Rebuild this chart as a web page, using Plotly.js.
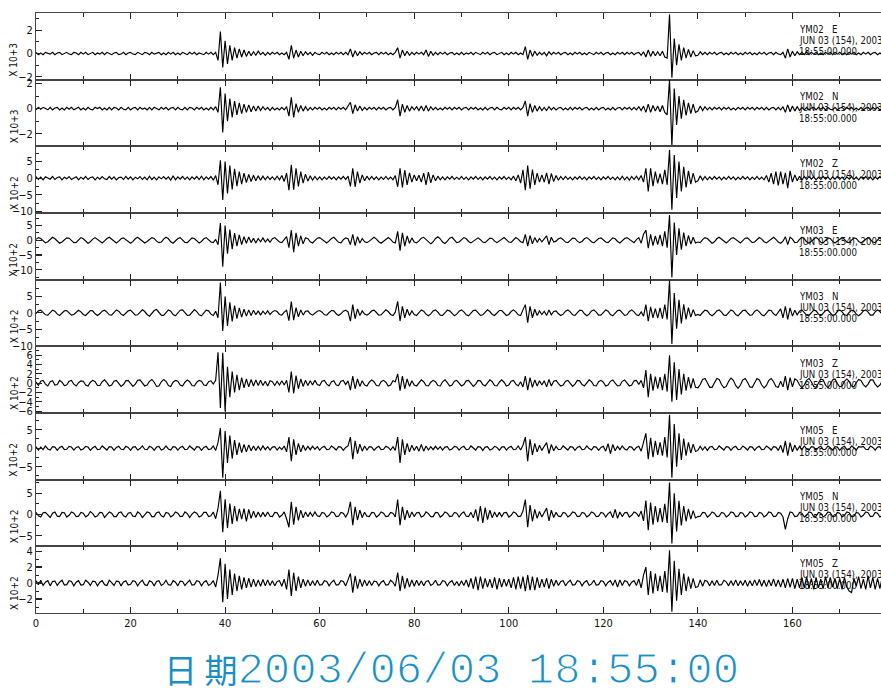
<!DOCTYPE html>
<html><head><meta charset="utf-8">
<script src="https://cdn.plot.ly/plotly-3.0.1.min.js"></script>
<style>html,body{margin:0;padding:0;overflow:hidden;background:#fff}#chart{width:890px;height:692px}</style>
</head><body><div id="chart"></div>
<script>
// ---- sampling of all traces (seconds after 18:55:00) ----
const sampleStart = 0;
const sampleInterval = 0.5;

// ---- panel labels ----
const stations = ['YM02','YM02','YM02','YM03','YM03','YM03','YM05','YM05','YM05'];
const channels = ['E','N','Z','E','N','Z','E','N','Z'];
const scaleLabels = ['X 10+3','X 10+3','X 10+2','X 10+2','X 10+2','X 10+2','X 10+2','X 10+2','X 10+2'];
const dateLine = 'JUN 03 (154), 2003';
const timeLine = '18:55:00.000';
const footer = '2003/06/03 18:55:00';
const footerPrefix = '日 期';

// ---- y tick labels per panel ----
const yTickVals = [[-2,0,2],[-2,0,2],[-10,-5,0,5],[-10,-5,0,5],[-10,-5,0,5],[-6,-4,-2,0,2,4,6],[-5,0,5],[-5,0,5],[-2,0,2,4]];
const xTickVals = [0,20,40,60,80,100,120,140,160];

// ---- traces (amplitude in panel units, one value per 0.5 s) ----
const e02 = [
.1,-.1,.05,-.1,.1,0,-.05,.1,-.1,.05,.1,-.1,0,.1,-.05,-.1,.1,.05,-.1,.1,
-.05,.1,-.1,0,.1,-.1,.05,-.05,.1,-.1,.1,0,-.1,.05,.1,-.1,-.05,.1,-.1,.05,
.1,-.05,-.1,.1,0,-.1,.1,.05,-.1,.1,-.05,0,.1,-.1,.05,-.1,.1,-.05,.1,-.1,
.05,-.1,.1,0,-.1,.1,-.05,.1,-.1,.05,0,-.1,.1,-.05,.1,-.1,.1,-.6,1.9,-1.2,
1.1,-.9,.7,-.6,.5,-.4,.4,-.3,.3,-.25,.2,-.2,.15,-.15,.2,-.1,.1,-.15,.1,-.1,
.1,-.05,.1,-.1,.05,-.1,.1,-.5,.7,-.4,.3,-.3,.2,-.2,.15,-.1,.1,-.15,.1,-.05,
-.1,.1,-.05,.1,-.1,.05,-.1,.1,-.05,.1,-.1,.1,-.1,.4,-.3,.25,-.2,.15,-.1,.1,
-.05,.1,-.1,.05,.1,-.1,.1,-.05,.1,-.1,.05,-.1,.1,.5,-.4,.3,-.2,.2,-.15,.1,
-.1,.1,-.05,.1,-.1,.3,-.25,.2,-.15,.1,-.1,.1,-.05,.1,-.1,.05,.1,-.1,.05,-.1,
.1,-.1,.05,-.05,.1,-.1,.1,0,-.1,.1,-.05,.1,-.1,.05,.1,-.1,0,.1,-.1,.05,
-.1,.1,-.05,.1,-.1,.05,-.1,.6,-.5,.3,-.25,.2,-.15,.1,-.1,.1,-.2,.15,-.1,.1,
-.05,.1,-.1,.05,.1,-.1,.05,-.1,.1,-.05,.1,-.1,.05,-.1,.1,0,-.1,.1,-.05,.1,
-.1,.05,.1,-.1,.05,-.1,.1,-.05,.1,-.1,.1,-.05,.1,-.1,.05,.1,-.15,.15,-.3,.3,
-.25,.2,-.2,.15,-.2,.2,-.3,-.4,3.4,-2.1,1.3,-1,.8,-.6,.5,-.4,.35,-.3,.25,-.2,
-.15,.15,-.1,.1,-.1,.1,-.05,.1,-.1,.05,.1,-.1,.05,-.1,.1,-.05,.1,-.1,.05,-.1,
.1,-.05,.1,-.1,.05,-.1,.1,-.05,.1,-.1,.05,.1,-.1,.1,-.05,-.1,.1,-.4,.4,-.3,
.2,-.2,.15,-.1,.1,-.1,.15,-.1,.1,-.05,.1,-.1,.05,-.1,.1,-.05,.1,-.1,.1,-.05,
.1,-.1,.05,-.1,.1,-.05,.1,-.1,.05,-.1,.1,-.05,.1,-.1,.05,.1,-.1,.05,-.1,.1];
const n02 = [
-.1,.1,-.05,.1,0,-.1,.1,-.1,.05,.1,-.1,.05,-.1,.1,-.05,.1,-.1,0,.1,-.1,
.05,-.1,.1,-.05,-.1,.1,0,.1,-.1,.05,-.1,.1,-.1,.1,.05,-.1,.1,-.05,-.1,.1,
-.1,.05,.1,-.1,.1,-.05,.05,-.1,.1,-.1,.1,0,-.1,.1,-.05,.1,-.1,.05,.1,-.1,
.1,-.05,-.1,.1,-.1,.1,.05,-.1,.1,-.05,.1,-.1,.05,-.1,.1,-.1,.15,-.3,1.7,-1.9,
1.2,-1,.8,-.7,.6,-.5,.45,-.4,.35,-.3,.3,-.25,.2,-.2,.2,-.15,.15,-.1,.1,-.15,
.1,-.1,.05,-.1,.1,-.1,.15,-.6,.9,-.7,.4,-.3,.25,-.2,.15,-.15,.1,-.1,.1,-.05,
.1,-.1,.05,-.1,.1,-.05,.1,-.1,.1,-.05,.1,-.1,.15,.5,-.4,.3,-.2,.2,-.15,.1,
-.1,.1,-.05,.1,-.1,.1,-.05,.1,-.1,.05,.1,-.1,.1,.7,-.6,.35,-.3,.25,-.2,.15,
-.1,.15,-.15,.2,-.2,.25,-.2,.15,-.1,.1,-.1,.05,-.1,.1,-.05,.1,-.1,.1,-.05,.1,
-.1,.05,.1,-.1,.1,-.05,.1,-.1,.05,-.1,.1,-.1,.05,.1,-.1,.1,-.05,-.1,.1,-.05,
.1,-.1,.1,-.05,.1,-.1,.1,.6,-.6,.4,-.3,.25,-.2,.15,-.15,.1,-.15,.15,-.1,.1,
-.1,.05,.1,-.1,.05,-.1,.1,-.1,.1,-.05,.1,-.1,.05,.1,-.1,.05,-.1,.1,-.1,.05,
.1,-.1,.05,-.1,.1,-.1,.05,.1,-.1,.1,-.05,.1,-.1,.1,-.1,.15,-.15,.2,-.3,.35,
-.3,.25,-.2,.2,-.25,.25,-.3,-.5,2.3,-3,1.6,-1.3,1,-.8,.7,-.55,.45,-.4,.35,-.3,
-.2,.2,-.15,.15,-.1,.1,-.1,.1,-.05,.1,-.1,.1,-.05,.1,-.1,.05,-.1,.1,-.05,.1,
-.1,.1,-.05,.1,-.1,.1,-.05,.1,-.1,.1,-.1,.05,.1,-.1,.1,-.1,.15,-.3,.3,-.25,
.2,-.2,.15,-.15,.1,-.1,.1,-.1,.05,.1,-.1,.1,-.05,.1,-.1,.1,-.05,-.1,.1,-.1,
.05,.1,-.1,.1,-.05,.1,-.1,.05,-.1,.1,-.1,.05,.1,-.1,.1,-.05,.1,-.1,.05,-.1];
const z02 = [
.5,-.4,.3,-.5,.4,0,-.3,.5,-.4,.2,.4,-.5,.3,-.2,.5,-.4,.1,.4,-.5,.3,
-.3,.5,-.4,.2,.4,-.5,.3,-.3,.5,-.2,-.4,.5,-.3,.4,-.5,.2,.3,-.4,.5,-.3,
.4,-.5,.3,-.2,.5,-.4,.3,-.5,.6,-.4,.3,-.5,.4,-.2,.5,-.3,.4,-.6,.7,-.5,
.4,-.3,.5,-.4,.3,-.5,.4,-.3,.5,-.4,.6,-.5,.4,-.3,.5,-.6,.8,-2,5.4,-6.6,
5,-4.6,3.8,-3.4,2.8,-2.4,2,-1.8,1.5,-1.3,1.1,-1,.9,-.8,.7,-.6,.6,-.5,.5,-.4,
.4,-.5,.6,-.5,.8,-1,1.5,-3.6,4,-3.5,3,-2.5,2,-1.5,1.2,-.9,.7,-.6,.5,-.5,
.4,-.5,.3,-.4,.5,-.3,.4,-.5,.4,-.3,.5,-.4,.6,-2.5,3,-2.6,2,-1.5,1,-.8,
.6,-.5,.5,-.4,.4,-.5,.3,-.4,.5,-.4,.3,-.5,.8,-2.6,3,-2.8,2.4,-2,1.6,-1.2,
1,-.8,.9,-1.2,1.5,-2,1.8,-1.4,1,-.8,.6,-.5,.4,-.5,.4,-.3,.5,-.4,.3,-.4,
.5,-.4,.3,-.5,.4,-.3,.5,-.4,.3,-.5,.4,-.3,.5,-.4,.3,-.5,.4,-.3,.5,-.4,
.3,-.5,.6,-.8,1,-1.5,2.5,-3.6,3.8,-3.2,2.6,-2,1.5,-1.2,1,-1.2,1.6,-1.8,1.4,-1,
.8,-.6,.5,-.4,.5,-.4,.3,-.5,.4,-.3,.5,-.4,.3,-.5,.4,-.3,.5,-.4,.3,-.5,
.4,-.3,.5,-.4,.3,-.5,.4,-.5,.6,-.5,.4,-.6,.5,-.4,.6,-.5,.8,-1.2,3,-4,
3,-2.4,2,-1.6,1.4,-1.8,2.5,-2,8.5,-9.5,7,-6,5,-4,3.4,-2.8,2.2,-1.8,1.5,-1.2,
-.8,.7,-.6,.5,-.5,.4,-.4,.5,-.3,.4,-.5,.3,-.4,.5,-.3,.4,-.5,.3,-.4,.5,
-.3,.4,-.5,.3,-.4,.5,-.4,.3,-.5,.8,-1.2,1.5,-1.8,2,-2.2,2,-1.8,1.6,-3,2.2,
-1.2,1,-.8,.6,-.6,.5,-.4,.5,-.3,.4,-.5,.3,-.4,.5,-.3,.4,-.5,.4,-.3,.5,
-.4,.3,-.5,.4,-.3,.5,-.4,.3,-.5,.4,-.3,.5,-.4,.3,-.5,.4,-.3,.5,-.4,.3];
const e03 = [
.3,.9,.6,-.3,-.9,-.5,.4,1,.5,-.4,-1,-.6,.2,.8,.7,-.2,-.8,-.7,.3,.9,
.5,-.3,-1,-.5,.4,.9,.3,-.6,-.9,-.2,.6,1,.4,-.5,-.9,-.3,.5,.8,.2,-.6,
-1,-.4,.5,1,.4,-.4,-.9,-.4,.3,.9,.6,-.3,-.8,-.6,.4,1,.5,-.5,-1,-.3,
.6,.9,.2,-.7,-.8,.1,.8,.6,-.3,-.9,-.4,.5,.9,.3,-.6,-.8,.3,-1.5,5.8,-8.9,
5,-4.5,3.6,-3,2.4,-2,1.8,-1.5,1.2,-1,1.1,-.8,.7,-.9,.6,-.5,.8,-.6,.4,-.7,
.5,.9,.2,-.6,-.8,.3,1.2,-2.5,3.4,-4,2.5,-2,1.5,-1.2,.8,.6,-.5,-.9,-.2,.7,
.9,.3,-.6,-.9,-.2,.6,1,.3,-.7,-.9,.2,.8,.5,-1.5,2,-1.8,1.2,-.9,.6,-.5,
-.8,-.3,.5,1,.4,-.5,-1,-.4,.5,.9,.3,-.6,-.9,3,-3.5,2.5,-2,1.5,-1,.8,
-.6,-.9,-.2,.7,1,.3,-.6,-1.2,-.5,.6,1.2,.5,-.6,-1.1,-.3,.7,1,.2,-.8,-.6,
.3,.9,.5,-.4,-.9,-.4,.4,.8,.2,-.6,-.8,.1,.7,.6,-.3,-.8,-.3,.5,.9,.2,
-.6,-.7,.3,.9,.4,-.5,-.8,2,-2,1.6,-1.2,.9,-.7,.6,-.5,.4,1.5,-1.5,1,-.6,
-.3,.5,.8,.2,-.6,-.8,.1,.7,.6,-.3,-.8,-.4,.5,.9,.3,-.5,-.9,-.2,.6,.8,
.2,-.6,-.8,.1,.8,.5,-.4,-.9,-.2,.6,.9,.3,-.5,-.8,.2,.9,-1,2,3.4,-2.7,
2,-1.8,1.5,-1.5,1.8,-2,3,-2.5,8.5,-12.6,6,-5,4,-3.2,2.6,-2,1.6,-1.3,1,-.9,
-.6,-.8,.2,.9,.6,-.4,-1,-.5,.5,1,.4,-.5,-.9,-.2,.6,.9,.3,-.6,-.9,-.1,
.7,.8,-.1,-.8,-.6,.3,.9,.4,-.5,-.9,-.2,.6,1,.3,-.6,-1,-.3,1.2,-1.5,1,
.4,-.8,-.7,.3,1,.5,-.5,-1,-.4,.5,1,.3,-.7,-.9,.1,.8,.6,-.4,-.9,-.3,
.5,.9,.3,-.6,-.8,.1,.8,.6,-.4,-.9,-.3,.6,.9,.2,-.6,-.8,.2,.9,.4,-.5];
const n03 = [
-.2,.6,.8,.1,-.6,-.7,.2,.8,.5,-.4,-.8,-.2,.6,.7,-.1,-.7,-.5,.3,.8,.3,
-.5,-.8,0,.7,.6,-.3,-.8,-.3,.5,.8,.2,-.6,-.7,.2,.9,.5,-.4,-.8,-.2,.6,
.8,.1,-.7,-.6,.3,.9,.4,-.5,-1,-.3,.7,1,.2,-.7,-.8,.2,.9,.5,-.5,-.9,
-.1,.8,.9,.1,-.8,-.7,.3,1,.4,-.6,-.9,0,.8,.6,-.4,-.8,.5,-1.5,9.2,-5.5,
5,-4,3.2,-2.6,2.2,-1.8,1.5,-1.3,1.1,-1,.9,-.8,.8,-.6,.6,-.7,.5,-.4,.6,-.5,
.3,.7,.4,-.5,-.7,.2,.8,-2.4,3.4,-2.2,1.6,-1.2,.9,-.7,.5,.6,-.3,-.7,-.2,.5,
.7,.2,-.6,-.7,.1,.7,.6,-.3,-.8,-.3,.5,.8,.3,-2.5,2.5,-1.8,1.2,-.8,.6,-.4,
-.7,-.2,.6,.8,.1,-.7,-.6,.3,.9,.4,-.5,-.8,.2,3.5,-2.5,2,-1.5,1.1,-.8,.6,
-.5,-.8,.2,.9,.5,-.4,-.9,-.3,.6,.9,.2,-.7,-.8,.1,.8,.6,-.3,-.9,-.4,.5,
.9,.3,-.6,-.9,-.1,.7,.8,0,-.8,-.6,.3,.9,.4,-.5,-.8,-.1,.7,.7,-.2,-.8,
-.5,.4,.9,.3,-.6,-.8,.9,2.5,-3,2,-1.5,1.1,-.8,.6,-.5,.5,-.8,.9,-.6,.4,
.6,-.3,-.8,-.4,.5,.9,.3,-.6,-.8,0,.8,.7,-.3,-.9,-.4,.6,.9,.2,-.7,-.7,
.2,.9,.5,-.5,-.9,-.2,.7,.8,-.1,-.8,-.6,.4,.9,.3,-.6,-.8,.3,-1,2.5,-2.5,
1.8,-1.5,1.3,-1.6,1.5,-1.8,2.5,-2,9.8,-9.5,6,-4.8,4,-3.2,2.6,-2,1.6,-1.3,1,-.8,
-.5,-.8,.1,.8,.6,-.4,-.9,-.3,.6,.9,.2,-.7,-.8,.2,.9,.5,-.5,-.9,-.1,.7,
.8,0,-.8,-.6,.4,.9,.3,-.6,-.9,-.1,.8,.7,-.3,-.8,.4,1.2,-1.5,2,-2,1.5,
-1,.8,-.6,.5,.9,.2,-.7,-.8,.1,.8,.6,-.4,-.9,-.2,.7,.8,-.1,-.8,-.5,.4,
.9,.3,-.6,-.8,.1,.8,.6,-.4,-.9,-.3,.6,.9,.2,-.7,-.7,.3,.9,.4,-.5,-.8];
const z03 = [
.3,-.5,.4,.6,-.2,-.6,.3,.5,-.4,-.3,.6,.2,-.5,-.4,.4,.6,-.2,-.6,.1,.5,
.4,-.4,-.6,.2,.6,.3,-.5,-.5,.3,.7,.1,-.6,-.4,.4,.6,-.1,-.7,-.3,.5,.6,
-.2,-.7,-.2,.6,.7,-.1,-.6,-.4,.4,.8,.2,-.7,-.6,.3,.8,.4,-.5,-.7,.2,.6,
.4,-.4,-.6,.2,.7,.3,-.5,-.6,.2,.6,.4,-.4,-.5,.3,.5,-.2,.6,6.6,-5.3,6.5,
-6,3.5,-3,2.5,-2,1.8,-1.5,1.2,-1,.9,-.8,.8,-.6,.7,-.5,.6,-.5,.4,-.6,.5,
.3,-.5,.4,-.4,.5,-.4,.6,-2,2.5,-2.2,1.6,-1.2,.9,-.7,.6,-.5,.5,-.4,.6,-.3,
-.5,.4,.6,-.2,-.6,.3,.5,-.4,-.5,.4,.6,-.3,.5,-1.5,1.5,-1.2,.9,-.7,.5,-.4,
-.6,.2,.7,.3,-.5,-.6,.3,.6,.2,-.6,-.4,.5,.3,2,-1.6,1.5,-1.2,.9,-.7,.5,
-.4,-.6,.2,.7,.3,-.5,-.6,.2,.6,.3,-.5,-.6,.3,.7,.1,-.6,-.4,.4,.6,-.1,
-.6,-.3,.5,.6,-.2,-.7,-.2,.6,.5,-.3,-.6,.1,.7,.3,-.5,-.6,.2,.7,.2,-.6,
-.4,.4,.6,-.2,-.6,.3,-.8,1.5,-1.5,1.2,-.9,.7,-.6,.5,-.4,.5,-.8,.8,-.6,.4,
.6,-.1,-.6,-.4,.4,.6,-.2,-.7,-.2,.6,.5,-.3,-.6,.1,.7,.3,-.5,-.6,.3,.6,
.2,-.6,-.4,.4,.7,0,-.6,-.5,.4,.7,.1,-.6,-.4,.5,.6,-.3,.6,-1,2.8,-3,
2,-1.6,1.4,-1.2,1.3,-1.5,2,-1.8,6,-4,4.5,-3.6,3,-2.4,2,-1.6,1.3,-1.1,1,-.9,
-1,-.3,.8,1,.1,-.9,-.9,.2,1,.8,-.3,-1,-.7,.4,1.1,.6,-.5,-1.1,-.4,.7,
1,.2,-.8,-.9,.1,1,.7,-.4,-1,-.5,.6,1,.3,-.7,-.9,.4,-.8,1.5,-1.5,1.2,
-.8,.9,.6,-.4,-1,-.4,.6,1,.3,-.7,-.9,0,.9,.7,-.4,-1,-.3,.7,.9,-.1,
-.8,-.6,.4,.9,.4,-.6,-.8,.1,.8,.6,-.3,-.8,-.2,.7,.7,-.2,-.8,-.4,.5,.7];
const e05 = [
.4,-.5,.3,-.4,.6,-.2,-.5,.4,.3,-.6,.2,.5,-.4,-.3,.5,.3,-.5,.2,.4,-.5,
-.2,.5,.3,-.6,.1,.5,-.4,-.3,.6,.1,-.5,.4,.3,-.6,.2,.5,-.3,-.4,.5,.2,
-.6,.3,.4,-.5,-.1,.6,-.3,-.4,.5,.2,-.6,.3,.5,-.5,-.2,.6,-.2,-.5,.4,.3,
-.5,.2,.5,-.4,-.3,.6,.1,-.5,.4,.3,-.6,.2,.5,-.4,-.2,.6,-.6,1.5,5.4,-8,
4.6,-4,3.4,-2.8,2.2,-1.8,1.5,-1.2,1,-1,.9,-.7,.6,-.6,.5,-.5,.6,-.4,.4,-.5,
.3,.4,-.5,.3,-.4,.6,-1,3,-3.5,2.4,-1.8,1.3,-1,.8,-.6,.5,-.4,.5,-.3,.4,
-.5,.2,.5,-.4,-.3,.6,.1,-.5,.4,.3,-.6,.2,.6,3,-3,2,-1.5,1.1,-.8,.6,
-.5,.4,.3,-.6,.1,.5,-.4,-.3,.5,.2,-.5,.4,-.6,3,-4,2.4,-1.8,1.3,-1,.8,
-.6,.5,-.8,1,-.8,.6,-.5,.4,-.4,.5,-.3,.4,-.5,.3,.4,-.5,-.2,.5,.3,-.5,
.2,.5,-.4,-.3,.6,.1,-.5,.4,.3,-.6,.3,.4,-.5,-.2,.5,.2,-.6,.3,.4,-.5,
.2,.5,-.4,-.3,.6,-.5,.8,3,-3.5,2.4,-1.8,1.3,-1,.8,-.6,.5,1.5,-1.5,1,-.7,
.5,-.4,-.3,.6,.1,-.5,.4,.3,-.6,.2,.5,-.4,-.3,.6,-.1,-.5,.4,.3,-.6,.2,
.5,-.8,1.2,-1.5,1,-.7,.5,-.4,.6,-.2,-.5,.4,.3,-.6,.2,.5,-.8,1.5,4,-3,
2.8,-2.4,2,-1.8,1.6,-2,3,-2.5,9,-8,6.5,-5,4,-3.2,2.6,-2,1.6,-1.3,1.1,-.9,
-.6,.5,-.5,.4,-.6,.3,.5,-.4,-.3,.6,.1,-.5,.4,.3,-.6,.2,.5,-.4,-.3,.6,
.1,-.5,.4,.3,-.6,.2,.5,-.4,-.3,.6,.1,-.5,.4,.3,-.6,.8,-1.2,2,-2,1.5,
-1,.8,-.6,.5,-.4,.6,-.2,-.5,.4,.3,-.6,.2,.5,-.4,-.3,.6,.1,-.5,.4,.3,
-.6,.2,.5,-.4,-.3,.6,.1,-.5,.4,.3,.5,-.3,-.4,.6,.2,-.5,.3,.4,-.6,.1];
const n05 = [
.5,-.3,-.6,.4,.5,-.2,-.7,.3,.6,-.4,-.5,.5,.4,-.6,-.2,.6,.3,-.5,-.4,.5,
.3,-.6,-.2,.7,.2,-.6,-.3,.5,.4,-.7,0,.6,.3,-.5,-.5,.4,.6,-.3,-.6,.3,
.5,-.4,-.5,.6,.2,-.7,-.1,.6,.4,-.5,-.5,.4,.6,-.3,-.6,.5,.3,-.6,-.2,.6,
.3,-.5,-.4,.6,.2,-.7,.1,.6,.3,-.6,-.3,.5,.5,-.5,-.3,.6,-1,1.5,5.6,-4.2,
3.6,-3.2,2.6,-2.2,2,-1.6,1.3,-1.1,1.4,-1.6,1.2,-.9,.8,-.7,.6,-.6,.5,-.5,.6,-.4,
-.5,.5,.4,-.6,-.2,.6,-1,-3,3,-2.4,1.8,-1.4,1,-.8,.6,-.5,.5,-.4,.6,-.3,
-.5,.5,.3,-.6,-.2,.6,.4,-.5,-.4,.5,.3,-.6,.4,3,-2.5,1.8,-1.3,1,-.7,.5,
-.4,-.5,.5,.4,-.6,-.2,.6,.3,-.5,-.4,.5,.3,-.6,3.5,-2.5,1.8,-1.3,1,-.8,.6,
-.5,.4,.5,-.6,-.3,.6,.2,-.5,-.5,.5,.4,-.6,-.2,.6,.3,-.5,-.4,.5,.3,-.6,
.2,.6,-.4,-.5,.5,-.8,1.2,-1.6,2,-2,1.6,-1.2,1,-.8,.6,-.6,.5,-.5,.4,.5,
-.6,-.2,.6,.3,-.5,-.4,.8,3.5,-3,2.2,-1.6,1.2,-.9,.7,-.6,.5,1.5,-1.5,1,-.7,
.5,-.4,-.5,.5,.3,-.6,-.2,.6,.4,-.5,-.4,.5,.3,-.6,-.2,.6,.3,-.5,-.4,.5,
.3,-.6,.2,.6,-.8,1.2,-.9,.6,-.5,.4,.5,-.6,-.2,.6,.3,-.5,.8,-1.5,3.3,-3.7,
2.8,-2.4,2,-1.8,1.5,-1.8,2.5,-2,7.5,-6.8,5,-4,3.2,-2.6,2,-1.6,1.3,-1.1,.9,-.8,
-.5,-.4,.5,.4,-.6,-.2,.6,.3,-.5,-.4,.5,.3,-.6,-.2,.6,.4,-.5,-.4,.5,.3,
-.6,-.2,.6,.4,-.5,-.4,.5,.3,-.6,-.2,.6,.4,-.5,-.4,.5,.3,-.6,-3.5,-1,.6,
.4,-.5,-.4,.5,.3,-.6,-.2,.6,.4,-.5,-.4,.5,.3,-.6,-.2,.6,.4,-.5,-.4,.5,
.3,-.6,-.2,.6,.4,-.5,-.4,.5,.3,-.6,-.2,.6,.4,-.5,-.4,.5,.3,-.6,-.2,.6];
const z05 = [
.3,-.2,.35,-.3,.1,.3,-.35,.2,.25,-.3,.1,.35,-.25,-.2,.3,.2,-.35,.1,.3,-.25,
-.2,.35,.1,-.3,.25,.2,-.35,.1,.3,-.2,-.3,.35,.05,-.3,.25,.2,-.35,.15,.3,-.25,
-.15,.3,.2,-.35,.1,.35,-.2,-.3,.3,.15,-.35,.2,.3,-.3,-.1,.35,-.2,-.25,.3,.1,
-.35,.25,.2,-.3,.05,.35,-.25,-.2,.3,.2,-.35,.1,.3,-.3,-.1,.3,-.5,1,3.1,-2.4,
2.4,-2,1.7,-1.5,1.2,-1,.9,-.8,.7,-.6,.6,-.5,.5,-.45,.4,-.4,.45,-.35,.4,-.3,
.3,-.35,.2,.3,-.4,.5,-.8,1.7,-1.6,1.3,-1,.8,-.6,.5,-.4,.4,-.35,.3,-.3,.35,
-.25,-.2,.3,.2,-.35,.1,.35,-.25,-.2,.3,.2,-.35,.4,1.2,-1.2,.9,-.7,.5,-.45,.4,
-.35,.3,-.3,.25,.2,-.35,.1,.3,-.25,-.2,.35,.1,-.4,1.3,-1,.9,-.7,.6,-.5,.4,
-.4,.35,-.3,.3,-.35,.2,.3,-.3,-.1,.35,-.25,-.2,.3,.2,-.35,.1,.3,-.3,.2,-.35,
.3,-.3,.4,-.5,.6,-.7,.8,-.9,.8,-.7,.6,-.5,.5,-.6,.7,-.8,.6,-.5,.5,-.4,
.5,-.6,.7,-.8,.8,-.7,.8,-1,1,-.9,.8,-.9,.7,-.6,.5,-.5,.6,-.7,.5,-.4,
.35,-.3,.2,.3,-.35,.1,.35,-.25,-.2,.3,.2,-.35,.1,.3,-.3,-.1,.35,-.25,-.2,.3,
.2,-.35,.1,.3,-.3,.4,-.5,.4,-.3,.3,.2,-.35,.1,.3,-.3,.5,-.6,1,2,-1.5,
1.5,-1.3,1.2,-1,.9,-1.1,1.5,-1.2,4.1,-3.6,2.8,-2.2,1.8,-1.5,1.2,-1,.8,-.7,.6,-.55,
-.45,.4,-.4,.35,.2,-.35,.3,-.3,.35,-.25,-.2,.35,.15,-.35,.3,-.3,.4,-.35,.3,-.3,
.35,-.4,.3,-.35,.4,-.3,.45,-.4,.35,-.45,.4,-.35,.5,-.45,.4,-.5,.5,-.6,.6,-.55,
.6,-.7,.5,-.6,.7,-.6,.8,-.7,.6,-.8,.7,-.6,.5,-.7,.8,-.6,.7,-.5,.6,-.7,
.6,-.8,.7,-.5,-1,-1.2,.6,-.4,.8,-.7,.5,-.8,.9,-.6,.7,-.8,.6,-.7,.8,-.6];

const series = [e02,n02,z02,e03,n03,z03,e05,n05,z05];

// ---- styling ----
const FONT = '"Liberation Sans Narrow","DejaVu Sans Condensed","Liberation Sans",sans-serif';
const LABEL_FONT = '"DejaVu Sans Condensed","Liberation Sans Narrow","Liberation Sans",sans-serif';
const yRanges = [[-2.26,3.5],[-3,2.3],[-10.5,9.6],[-13.3,9.2],[-10.2,10.1],[-6.4,7.9],[-8.5,9.5],[-7.5,8.2],[-3.75,4.6]];
const yMinor = [1,1,2.5,2.5,2.5,1,2.5,2.5,1];
const N = series.length, H = 1 / N;
const plotTopPx = 13, plotBottomPx = 613, plotLeftPx = 36, plotWidthPx = 851, plotHeightPx = 600;
const pxToPaperY = px => (plotBottomPx - px) / plotHeightPx;
const pxToPaperX = px => (px - plotLeftPx) / plotWidthPx;

const data = [];
const layout = {
  width: 890, height: 692,
  margin: {l: 36, r: 3, t: 13, b: 79, pad: 0},
  paper_bgcolor: '#fff', plot_bgcolor: '#fff',
  showlegend: false, hovermode: false,
  font: {family: FONT, size: 11, color: '#111'},
  annotations: []
};

for (let i = 0; i < N; i++) {
  const k = i + 1, sfx = k === 1 ? '' : String(k);
  data.push({
    type: 'scatter', mode: 'lines',
    x0: sampleStart, dx: sampleInterval, y: series[i],
    xaxis: 'x' + sfx, yaxis: 'y' + sfx,
    line: {color: '#000', width: 1.15}
  });
  const y0 = (N - 1 - i) * H, y1 = (N - i) * H;
  layout['xaxis' + sfx] = Object.assign({
    anchor: 'y' + sfx, range: [0, 180], tickvals: xTickVals,
    ticks: 'inside', ticklen: 6, tickwidth: 1.2, tickcolor: '#222',
    minor: {ticks: 'inside', ticklen: 4, dtick: 10, tick0: 0, tickcolor: '#222', tickwidth: 1},
    showline: true, linecolor: '#444', linewidth: 1, mirror: 'ticks',
    showgrid: false, zeroline: false,
    showticklabels: i === N - 1,
    tickfont: {family: FONT, size: 11, color: '#111'}
  }, i > 0 ? {matches: 'x'} : {});
  layout['yaxis' + sfx] = {
    anchor: 'x' + sfx, domain: [y0, y1], range: yRanges[i],
    tickvals: yTickVals[i],
    ticks: 'inside', ticklen: 6, tickwidth: 1.2, tickcolor: '#222',
    minor: {ticks: 'inside', ticklen: 3, dtick: yMinor[i], tick0: 0, tickcolor: '#222', tickwidth: 1},
    showline: true, linecolor: '#444', linewidth: 1, mirror: 'ticks',
    showgrid: false, zeroline: false,
    tickfont: {family: FONT, size: 11, color: '#111'}
  };
  // exponent label, rotated, left margin
  layout.annotations.push({
    xref: 'paper', yref: 'paper', x: pxToPaperX(14), y: y0, yshift: 1,
    xanchor: 'center', yanchor: 'bottom', textangle: -90, showarrow: false,
    text: scaleLabels[i], font: {family: LABEL_FONT, size: 10, color: '#111'}
  });
  // station header lines
  const topPx = plotTopPx + i * plotHeightPx / N;
  const lines = [stations[i] + '\u00a0\u00a0\u00a0' + channels[i], dateLine, timeLine];
  lines.forEach((t, j) => layout.annotations.push({
    xref: 'paper', yref: 'paper', x: pxToPaperX(797), y: pxToPaperY(topPx + 17 + 11 * j),
    xanchor: 'left', yanchor: 'middle', showarrow: false,
    text: t, font: {family: LABEL_FONT, size: 9.6, color: '#111'}
  }));
}

layout.annotations.push({
  xref: 'paper', yref: 'paper', x: pxToPaperX(451.5), y: pxToPaperY(670),
  xanchor: 'center', yanchor: 'middle', showarrow: false,
  text: `<span style="font-family:'Noto Sans CJK TC';font-size:33px">${footerPrefix}</span><span style="stroke:#ffffff;stroke-width:1.2px">${footer}</span>`,
  font: {family: '"Liberation Mono","DejaVu Sans Mono",monospace', size: 44, color: '#1b8fc4'}
});

Plotly.newPlot('chart', data, layout, {staticPlot: true, displayModeBar: false});
const bad = series.map((s, i) => [i, s.length]).filter(p => p[1] !== 360);
if (bad.length) console.error('length mismatch', JSON.stringify(bad));
</script>
</body></html>
